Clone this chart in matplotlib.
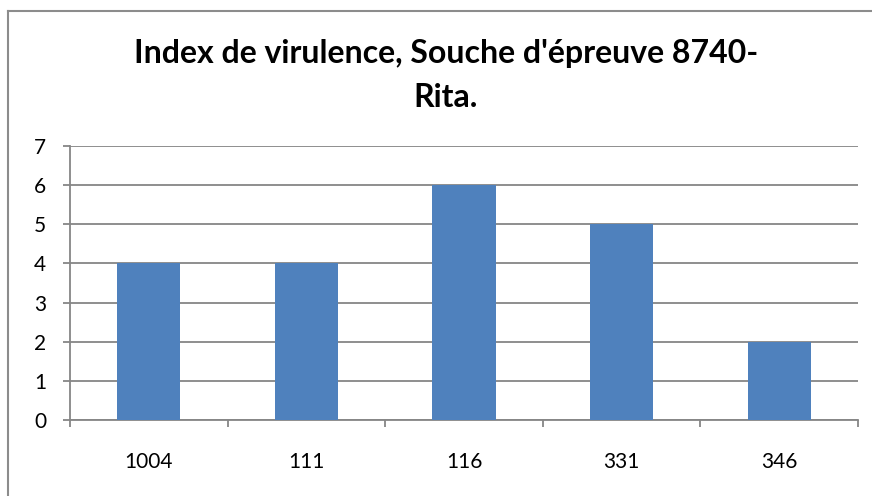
import matplotlib
matplotlib.use("Agg")
import matplotlib.pyplot as plt
from matplotlib.lines import Line2D

# Souches et index de virulence
souches = ["1004", "111", "116", "331", "346"]
index_virulence = [4, 4, 6, 5, 2]
y_ticks = [0, 1, 2, 3, 4, 5, 6, 7]

W, H = 872, 496
fig = plt.figure(figsize=(W / 100, H / 100), dpi=100)
plt.rcParams['font.family'] = ['Lato', 'DejaVu Sans']

# zone de tracé en pixels : x 70..858, y 146..420
ax = fig.add_axes([70 / W, 1 - 420 / H, (858 - 70) / W, (420 - 146) / H])

pos = range(len(souches))
ax.bar(pos, index_virulence, width=0.4, color="#4F81BD", zorder=3)

ax.set_xlim(-0.5, len(souches) - 0.5)
ax.set_ylim(0, 7)
ax.set_yticks(y_ticks)
ax.set_yticklabels([str(t) for t in y_ticks], fontsize=15)
ax.set_xticks(list(pos))
ax.set_xticklabels(souches, fontsize=15)
ax.tick_params(axis="x", length=0, pad=23)
ax.tick_params(axis="y", length=5, width=1.3, color="#868686", pad=12)

# graduations aux limites des catégories
ax.set_xticks([i - 0.5 for i in range(len(souches) + 1)], minor=True)
ax.tick_params(axis="x", which="minor", length=5, width=1.3, color="#868686")

ax.grid(axis="y", color="#868686", linewidth=1.3, zorder=0)
for s in ["top", "right"]:
    ax.spines[s].set_visible(False)
for s in ["left", "bottom"]:
    ax.spines[s].set_color("#868686")
    ax.spines[s].set_linewidth(1.3)

fig.text(446 / W, 1 - 63 / H, "Index de virulence, Souche d'épreuve 8740-",
         ha="center", va="baseline", fontsize=23, fontweight="bold")
fig.text(446 / W, 1 - 107 / H, "Rita.",
         ha="center", va="baseline", fontsize=23, fontweight="bold")

# cadre du graphique
fig.add_artist(Line2D([7.5 / W, 1], [1 - 11 / H, 1 - 11 / H], color="#8c8c8c", linewidth=1.5))
fig.add_artist(Line2D([7.5 / W, 7.5 / W], [0, 1 - 11 / H], color="#8c8c8c", linewidth=1.5))

fig.savefig("out.png", dpi=100)
